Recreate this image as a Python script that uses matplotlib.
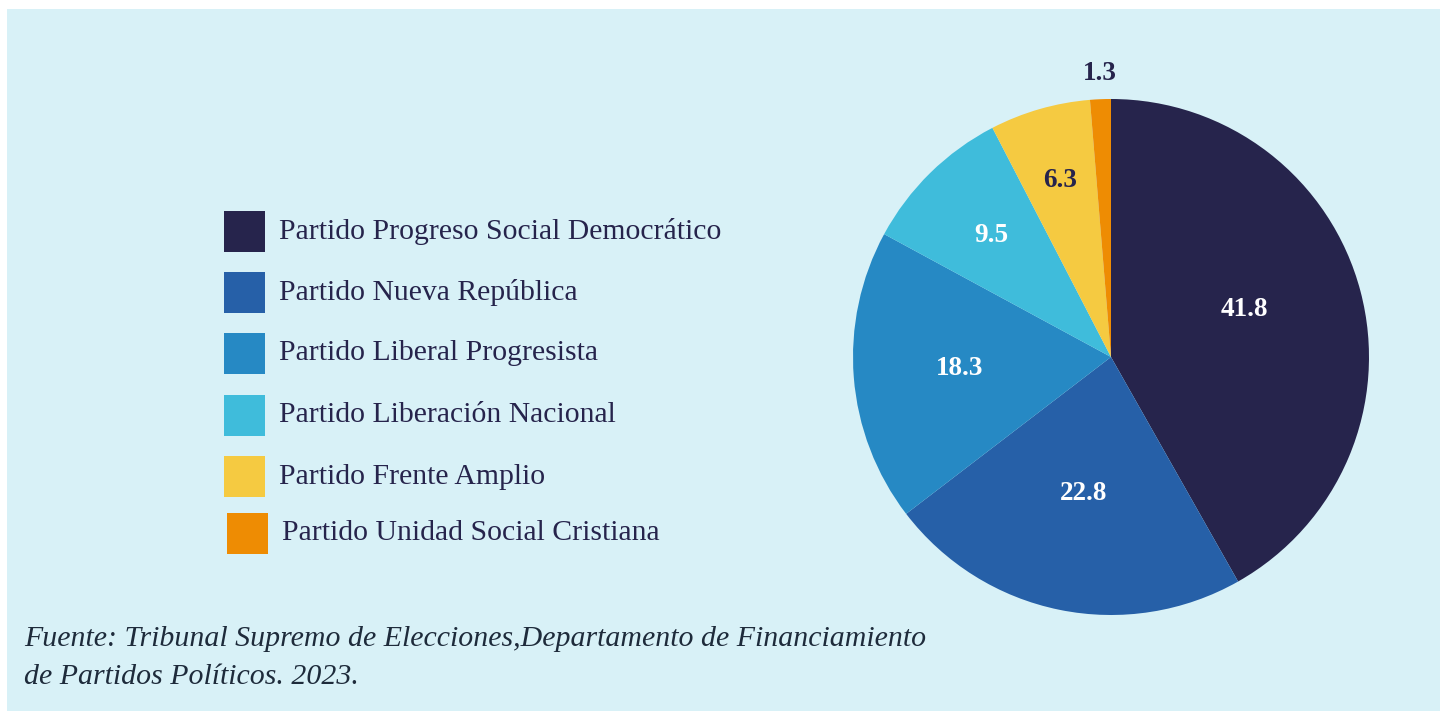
import matplotlib
matplotlib.use("Agg")
import matplotlib.pyplot as plt
from matplotlib.patches import Rectangle
import numpy as np

# ---------------- data ----------------
partidos = ["Partido Progreso Social Democrático",
            "Partido Nueva República",
            "Partido Liberal Progresista",
            "Partido Liberación Nacional",
            "Partido Frente Amplio",
            "Partido Unidad Social Cristiana"]
valores = [41.8, 22.8, 18.3, 9.5, 6.3, 1.3]
etiquetas = ["41.8", "22.8", "18.3", "9.5", "6.3", "1.3"]
fuente = ("Fuente: Tribunal Supremo de Elecciones,Departamento de Financiamiento\n"
          "de Partidos Políticos. 2023.")

# ---------------- style ----------------
colores = ["#26244c", "#2660a8", "#2689c4", "#3fbcdb", "#f5ca41", "#ee8c03"]
color_label = ["white", "white", "white", "white", "#26244c", "#26244c"]
label_r = [0.55, 0.54, 0.59, 0.66, 0.71, 1.10]
fondo = "#d8f1f7"
navy = "#26244c"

W, H = 1440, 711
fig = plt.figure(figsize=(W / 100, H / 100), dpi=100)
fig.patch.set_facecolor("white")

# background panel + legend drawn in pixel coords
base = fig.add_axes([0, 0, 1, 1])
base.set_xlim(0, W)
base.set_ylim(H, 0)
base.axis("off")
base.add_patch(Rectangle((7, 9), W - 7, H - 9, facecolor=fondo, edgecolor="none"))

# legend rows (x of square, y top of square)
leg_x = [224, 224, 224, 224, 224, 227]
leg_y = [211, 272, 333, 395, 456, 513]
sq = 41
for i, p in enumerate(partidos):
    base.add_patch(Rectangle((leg_x[i], leg_y[i]), sq, sq,
                             facecolor=colores[i], edgecolor="none"))
    base.text(leg_x[i] + 55, leg_y[i] + sq / 2, p, fontsize=21.4,
              family="Liberation Serif", color=navy, va="center", ha="left")

base.text(24, 658, fuente, fontsize=21.5, family="Liberation Serif",
          style="italic", color="#1e2b3b", va="center", ha="left",
          linespacing=1.62)

# ---------------- pie ----------------
cx, cy, R = 1111, H - 357, 258
half = 300
ax = fig.add_axes([(cx - half) / W, (cy - half) / H, 2 * half / W, 2 * half / H])
ax.set_facecolor("none")
lim = half / R
wedges, _ = ax.pie(valores, colors=colores, startangle=90, counterclock=False,
                   wedgeprops=dict(linewidth=0))
ax.set_xlim(-lim, lim)
ax.set_ylim(-lim, lim)
ax.set_aspect("equal")
ax.axis("off")

# label offsets in degrees so the text sits where the original puts it
ang_shift = [5, 0, 0, 0, 0, 0]
for i, w in enumerate(wedges):
    ang = np.deg2rad((w.theta1 + w.theta2) / 2 + ang_shift[i])
    ax.text(label_r[i] * np.cos(ang), label_r[i] * np.sin(ang), etiquetas[i],
            ha="center", va="center", fontsize=19.5, fontweight="bold",
            family="Liberation Serif", color=color_label[i])

fig.savefig("out.png", dpi=100, facecolor=fig.get_facecolor())
